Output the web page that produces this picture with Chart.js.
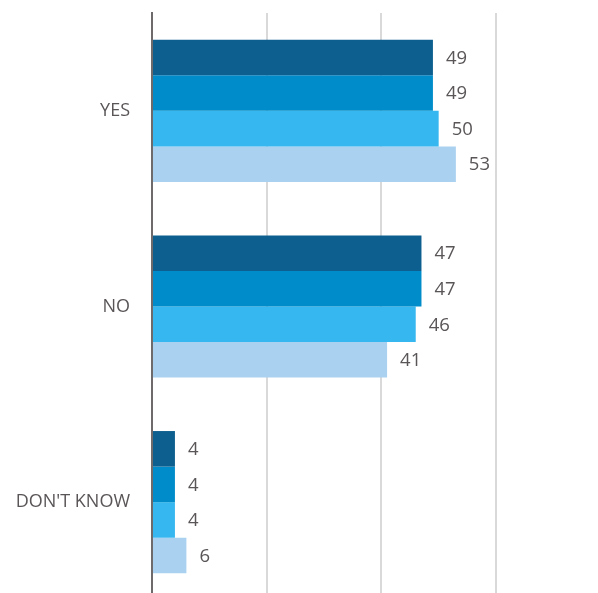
<!DOCTYPE html>
<html>
<head>
<meta charset="utf-8">
<script src="https://cdn.jsdelivr.net/npm/chart.js@4.4.1/dist/chart.umd.min.js"></script>
<style>
    html, body { margin: 0; padding: 0; background: #fff; overflow: hidden; }
    #wrap { width: 598px; height: 600px; position: relative; }
</style>
</head>
<body>
<div id="wrap"><canvas id="chart"></canvas></div>
<script>
const categories = ['YES', 'NO', "DON'T KNOW"];
const seriesNames = ['Series 1', 'Series 2', 'Series 3', 'Series 4'];
const series1 = [49, 47, 4];
const series2 = [49, 47, 4];
const series3 = [50, 46, 4];
const series4 = [53, 41, 6];
const xTicks = [0, 20, 40, 60];

const colors = ['#0D5F8F', '#008CCA', '#36B7EF', '#AAD1F0'];
const textColor = '#5A5658';

// draws the value next to the end of each bar
const valueLabels = {
    id: 'valueLabels',
    afterDatasetsDraw(chart) {
        const ctx = chart.ctx;
        ctx.save();
        ctx.font = '18.5px "Open Sans", sans-serif';
        ctx.fillStyle = textColor;
        ctx.textAlign = 'left';
        ctx.textBaseline = 'middle';
        chart.data.datasets.forEach((ds, i) => {
            chart.getDatasetMeta(i).data.forEach((bar, j) => {
                ctx.fillText(ds.data[j], bar.x + 13, bar.y + 1);
            });
        });
        ctx.restore();
    }
};

const allSeries = [series1, series2, series3, series4];

new Chart(document.getElementById('chart'), {
    type: 'bar',
    data: {
        labels: categories,
        datasets: allSeries.map((data, i) => ({
            label: seriesNames[i],
            data: data,
            backgroundColor: colors[i],
            borderWidth: 0,
            barPercentage: 1,
            categoryPercentage: 0.727
        }))
    },
    options: {
        indexAxis: 'y',
        responsive: true,
        maintainAspectRatio: false,
        animation: false,
        layout: { padding: { top: 13, right: 102, left: 0, bottom: 0 } },
        plugins: {
            legend: { display: false },
            tooltip: { enabled: false }
        },
        scales: {
            x: {
                min: 0,
                max: 60,
                afterBuildTicks(scale) {
                    scale.ticks = xTicks.map(v => ({ value: v }));
                },
                ticks: { display: false },
                grid: {
                    color: ctx => ctx.tick && ctx.tick.value === 0 ? 'rgba(0,0,0,0)' : '#D9D9D9',
                    lineWidth: 2,
                    drawTicks: false
                },
                border: { display: false },
                afterFit(scale) {
                    scale.height = 0;
                    scale.paddingLeft = 0;
                    scale.paddingRight = 0;
                }
            },
            y: {
                grid: { display: false, drawTicks: false },
                border: { display: true, color: '#6E6A6B', width: 2 },
                ticks: {
                    color: textColor,
                    font: { family: '"Open Sans", sans-serif', size: 18 },
                    padding: 22
                },
                afterFit(scale) {
                    scale.width = 152;
                    scale.paddingTop = 0;
                    scale.paddingBottom = 0;
                }
            }
        }
    },
    plugins: [valueLabels]
});
</script>
</body>
</html>
